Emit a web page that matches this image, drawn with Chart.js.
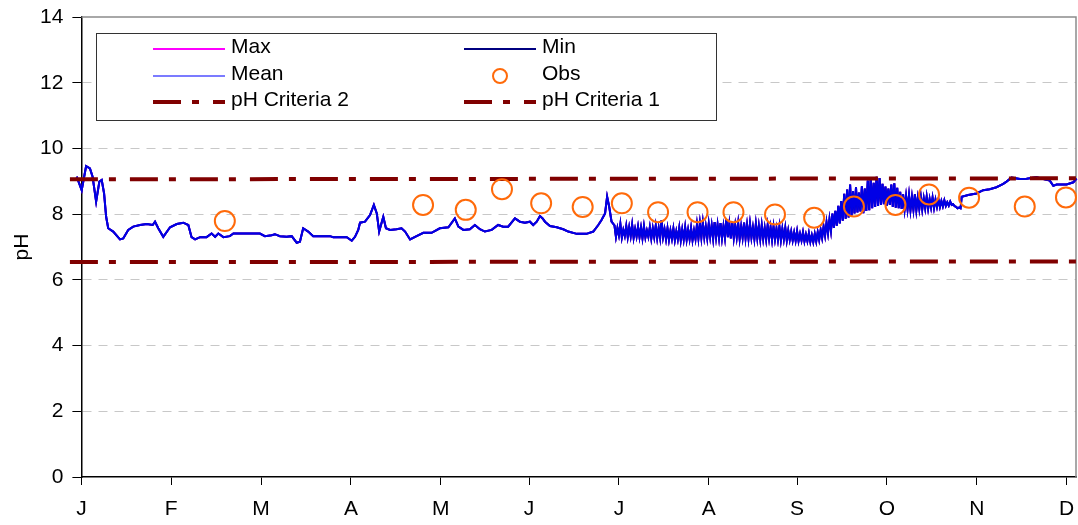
<!DOCTYPE html>
<html>
<head>
<meta charset="utf-8">
<title>pH</title>
<script src="https://cdn.jsdelivr.net/npm/chart.js@4.4.1/dist/chart.umd.min.js"></script>
<style>
  html, body { margin: 0; padding: 0; background: #fff; }
  #wrap { width: 1078px; height: 525px; position: relative; }
</style>
</head>
<body>
<div id="wrap"><canvas id="phChart"></canvas></div>
<script>
// x axis: days from 1 Jan, one tick per month
const monthTickDays = [0, 30.5, 61, 91.5, 122, 152, 182.5, 213, 243, 273.5, 304, 334.5];
const monthLabels = ['J', 'F', 'M', 'A', 'M', 'J', 'J', 'A', 'S', 'O', 'N', 'D'];

// continuous record, Jan - Jun (irregular readings)
const calmDays = [-3.9, -1.6, 0.1, 1.6, 2.9, 3.8, 5.0, 6.1, 6.9, 7.7, 8.4, 9.1, 10.8, 13.1, 14.2, 15.9, 17.6, 19.9, 22.2, 24.2,
  25.0, 26.1, 27.8, 30.1, 32.4, 34.6, 36.3, 37.4, 38.6, 40.3, 42.5, 44.2, 45.4, 46.5, 48.2, 50.4, 51.6, 60.6, 62.3, 64.6,
  65.7, 67.4, 69.7, 71.4, 73.1, 74.2, 75.3, 77.0, 78.7, 84.4, 85.5, 90.1, 91.8, 92.9, 94.0, 94.6, 96.3, 98.0, 99.3, 100.3,
  101.1, 102.5, 103.4, 104.8, 107.0, 108.7, 109.9, 111.6, 113.8, 116.1, 118.9, 121.7, 124.6, 126.8, 128.0, 129.7, 131.9, 133.6, 135.3, 137.0,
  139.3, 141.5, 143.2, 144.9, 147.2, 148.9, 150.6, 152.3, 153.4, 154.6, 155.7, 156.6, 157.4, 159.1, 161.4, 163.6, 165.3, 168.2, 171.5, 173.8,
  175.5, 176.6, 177.8, 178.5, 179.2, 180.0];
const calmPH = [8.75, 9.14, 8.73, 9.46, 9.39, 9.14, 8.38, 8.99, 9.04, 8.63, 7.92, 7.57, 7.47, 7.23, 7.26, 7.52, 7.62, 7.67, 7.70, 7.67,
  7.77, 7.57, 7.31, 7.60, 7.70, 7.74, 7.67, 7.30, 7.23, 7.30, 7.30, 7.41, 7.31, 7.41, 7.30, 7.33, 7.41, 7.41, 7.33, 7.36,
  7.39, 7.33, 7.31, 7.33, 7.13, 7.16, 7.57, 7.47, 7.33, 7.33, 7.30, 7.30, 7.19, 7.31, 7.52, 7.74, 7.77, 7.97, 8.28, 8.02,
  7.47, 7.92, 7.57, 7.52, 7.54, 7.57, 7.47, 7.23, 7.33, 7.43, 7.43, 7.57, 7.60, 7.87, 7.62, 7.52, 7.54, 7.67, 7.54, 7.47,
  7.52, 7.67, 7.62, 7.62, 7.87, 7.77, 7.74, 7.77, 7.67, 7.77, 7.94, 7.87, 7.77, 7.64, 7.60, 7.54, 7.47, 7.40, 7.40, 7.47,
  7.67, 7.82, 8.02, 8.53, 8.23, 7.77];

// day/night swing, Jul - Oct: two readings a day from halfDayStart
const halfDayStart = 181;
const halfDayPH = [
  7.66, 7.31, 7.58, 7.36, 7.70, 7.29, 7.52, 7.34, 7.64, 7.30,
  7.60, 7.33, 7.68, 7.28, 7.55, 7.32, 7.62, 7.30, 7.59, 7.27,
  7.63, 7.29, 7.50, 7.31, 7.60, 7.26, 7.57, 7.30, 7.64, 7.27,
  7.58, 7.28, 7.82, 7.30, 7.54, 7.24, 7.57, 7.22, 7.50, 7.25,
  7.56, 7.21, 7.48, 7.24, 7.58, 7.20, 7.53, 7.23, 7.60, 7.22,
  7.52, 7.24, 7.58, 7.21, 7.50, 7.25, 7.68, 7.27, 7.72, 7.29,
  7.74, 7.30, 7.62, 7.27, 7.70, 7.31, 7.66, 7.26, 7.76, 7.30,
  7.68, 7.28, 7.73, 7.27, 7.64, 7.29, 7.85, 7.30, 7.70, 7.26,
  7.75, 7.28, 7.66, 7.30, 7.72, 7.25, 7.62, 7.29, 7.74, 7.27,
  7.67, 7.26, 7.71, 7.29, 7.60, 7.25, 7.70, 7.27, 7.64, 7.24,
  7.66, 7.25, 7.58, 7.23, 7.65, 7.26, 7.60, 7.22, 7.62, 7.24,
  7.56, 7.23, 7.62, 7.21, 7.55, 7.24, 7.58, 7.20, 7.50, 7.22,
  7.47, 7.20, 7.44, 7.19, 7.48, 7.18, 7.40, 7.20, 7.45, 7.17,
  7.38, 7.18, 7.42, 7.16, 7.36, 7.15, 7.40, 7.17, 7.45, 7.22,
  7.52, 7.28, 7.62, 7.35, 7.75, 7.42, 7.85, 7.50, 8.02, 7.58,
  8.10, 7.65, 8.25, 7.72, 8.40, 7.80, 8.62, 7.86, 8.75, 7.90,
  8.90, 7.96, 8.70, 8.02, 8.82, 8.05, 8.66, 8.08, 8.85, 8.03,
  8.78, 8.10, 9.02, 8.12, 9.12, 8.18, 8.95, 8.22, 9.14, 8.25,
  9.10, 8.28, 8.92, 8.30, 8.84, 8.26, 8.78, 8.28, 8.90, 8.22,
  8.94, 8.20, 8.80, 8.18, 8.68, 8.16, 8.60, 8.14, 8.55, 8.15,
  8.58, 8.12, 8.52, 8.14, 8.60, 8.12, 8.50, 8.16, 8.54, 8.15,
  8.48, 8.18, 8.53, 8.17, 8.46, 8.20, 8.50, 8.19, 8.44, 8.22,
  8.45, 8.22, 8.40, 8.24, 8.42, 8.25, 8.36, 8.26, 8.38, 8.28,
  8.30, 8.24, 8.22, 8.18, 8.20, 8.18];

// Nov - Dec
const lateDays = [298.9, 301.1, 303.9, 306.2, 308.4, 310.7, 313.0, 314.1, 315.8, 318.7, 320.9, 324.3, 326.6, 328.8, 330.0, 331.1, 334.5, 336.8, 337.9];
const latePH = [8.53, 8.58, 8.63, 8.73, 8.76, 8.82, 8.92, 8.99, 9.11, 9.07, 9.08, 9.12, 9.07, 9.02, 8.86, 8.90, 8.90, 8.97, 9.08];

// grab samples
const obsDays = [48.7, 116.0, 130.5, 142.8, 156.1, 170.2, 183.5, 195.8, 209.2, 221.4, 235.5, 248.8, 262.3, 276.4, 287.8, 301.4, 320.3, 334.3];
const obsPH = [7.79, 8.28, 8.13, 8.76, 8.33, 8.22, 8.33, 8.06, 8.06, 8.06, 7.99, 7.89, 8.23, 8.28, 8.60, 8.50, 8.23, 8.51];

// criteria lines
const criteriaDays = [-3.9, 337.9];
const criteria2PH = [9.06, 9.09];
const criteria1PH = [6.54, 6.56];

const pts = (xs, ys) => xs.map((x, i) => ({ x: x, y: ys[i] }));

const recordPoints = pts(calmDays, calmPH)
  .concat(halfDayPH.map((v, i) => ({ x: halfDayStart + i * 0.5, y: v })))
  .concat(pts(lateDays, latePH));

const axisFont = { family: "'Liberation Sans', Arial, sans-serif", size: 21 };
const critDash = [28, 11, 7, 14];

// gray frame on top / right of plot area
const plotFrame = {
  id: 'plotFrame',
  beforeDatasetsDraw(chart) {
    const a = chart.chartArea;
    const ctx = chart.ctx;
    ctx.save();
    ctx.strokeStyle = '#8c8c8c';
    ctx.lineWidth = 1.5;
    ctx.beginPath();
    ctx.moveTo(a.left, a.top);
    ctx.lineTo(a.right, a.top);
    ctx.lineTo(a.right, a.bottom);
    ctx.stroke();
    ctx.restore();
  }
};

// boxed two-column legend inside the plot
const legendBox = {
  id: 'legendBox',
  afterDatasetsDraw(chart) {
    const ctx = chart.ctx;
    const sampleX = [153, 464];
    const textX = [231, 542];
    const rowY = [47, 74, 100];
    ctx.save();
    ctx.fillStyle = '#fff';
    ctx.fillRect(96, 33, 620, 87);
    ctx.strokeStyle = '#333';
    ctx.lineWidth = 1;
    ctx.strokeRect(96.5, 33.5, 620, 87);

    chart.data.datasets.forEach(function(ds, i) {
      const col = i % 2;
      const row = Math.floor(i / 2);
      const y = rowY[row];
      const x0 = sampleX[col];
      ctx.save();
      if (ds.showLine === false) {
        ctx.strokeStyle = ds.borderColor;
        ctx.lineWidth = 2;
        ctx.beginPath();
        ctx.arc(x0 + 36, y + 2, 7, 0, Math.PI * 2);
        ctx.stroke();
      } else {
        ctx.strokeStyle = ds.legendColor || ds.borderColor;
        ctx.lineWidth = ds.borderWidth;
        ctx.setLineDash(ds.borderDash || []);
        ctx.beginPath();
        ctx.moveTo(x0, y + 2);
        ctx.lineTo(x0 + 72, y + 2);
        ctx.stroke();
      }
      ctx.restore();
      ctx.fillStyle = '#000';
      ctx.font = "21px 'Liberation Sans', Arial, sans-serif";
      ctx.textBaseline = 'middle';
      ctx.fillText(ds.label, textX[col], y);
    });
    ctx.restore();
  }
};

const ctx = document.getElementById('phChart');
new Chart(ctx, {
  type: 'scatter',
  data: {
    datasets: [
      { label: 'Max', data: recordPoints, showLine: true, borderColor: '#ff00ff', borderWidth: 2, pointRadius: 0, order: 5, clip: false },
      { label: 'Min', data: recordPoints, showLine: true, borderColor: '#000080', borderWidth: 2, pointRadius: 0, order: 4, clip: false },
      { label: 'Mean', data: recordPoints, showLine: true, borderColor: '#0000e6', legendColor: '#7b7bff', borderWidth: 2, pointRadius: 0, order: 3, clip: false },
      { label: 'Obs', data: pts(obsDays, obsPH), showLine: false, borderColor: '#ff6a0a', backgroundColor: 'rgba(0,0,0,0)', borderWidth: 2, pointRadius: 10, order: 0, clip: false },
      { label: 'pH Criteria 2', data: pts(criteriaDays, criteria2PH), showLine: true, borderColor: '#800000', borderWidth: 4, borderDash: critDash, pointRadius: 0, order: 1, clip: false },
      { label: 'pH Criteria 1', data: pts(criteriaDays, criteria1PH), showLine: true, borderColor: '#800000', borderWidth: 4, borderDash: critDash, pointRadius: 0, order: 2, clip: false }
    ]
  },
  options: {
    responsive: true,
    maintainAspectRatio: false,
    animation: false,
    layout: { autoPadding: false, padding: { top: 17, right: 2, left: 0, bottom: 0 } },
    plugins: {
      legend: { display: false },
      tooltip: { enabled: false }
    },
    scales: {
      x: {
        type: 'linear',
        min: 0,
        max: 337.7,
        afterBuildTicks: function(scale) {
          scale.ticks = monthTickDays.map(function(v) { return { value: v }; });
        },
        afterFit: function(scale) {
          scale.height = 48;
          scale.paddingLeft = 0;
          scale.paddingRight = 0;
        },
        ticks: {
          autoSkip: false,
          maxRotation: 0,
          padding: 12,
          color: '#000',
          font: axisFont,
          callback: function(value, index) { return monthLabels[index]; }
        },
        grid: { drawOnChartArea: false, color: '#000', tickLength: 8, tickColor: '#000', tickWidth: 1 },
        border: { color: '#000', width: 1.5 }
      },
      y: {
        min: 0,
        max: 14,
        afterFit: function(scale) {
          scale.width = 81.4;
          scale.paddingTop = 0;
          scale.paddingBottom = 0;
        },
        ticks: { stepSize: 2, padding: 9, color: '#000', font: axisFont },
        grid: {
          color: function(c) { return (c.tick && c.tick.value > 0 && c.tick.value < 14) ? '#c8c8c8' : 'rgba(0,0,0,0)'; },
          tickColor: '#000',
          tickLength: 9,
          tickBorderDash: []
        },
        border: { color: '#000', width: 1.5, dash: [9, 7] },
        title: { display: true, text: 'pH', color: '#000', font: axisFont, padding: { top: 10, bottom: 0 } }
      }
    }
  },
  plugins: [plotFrame, legendBox]
});
</script>
</body>
</html>
